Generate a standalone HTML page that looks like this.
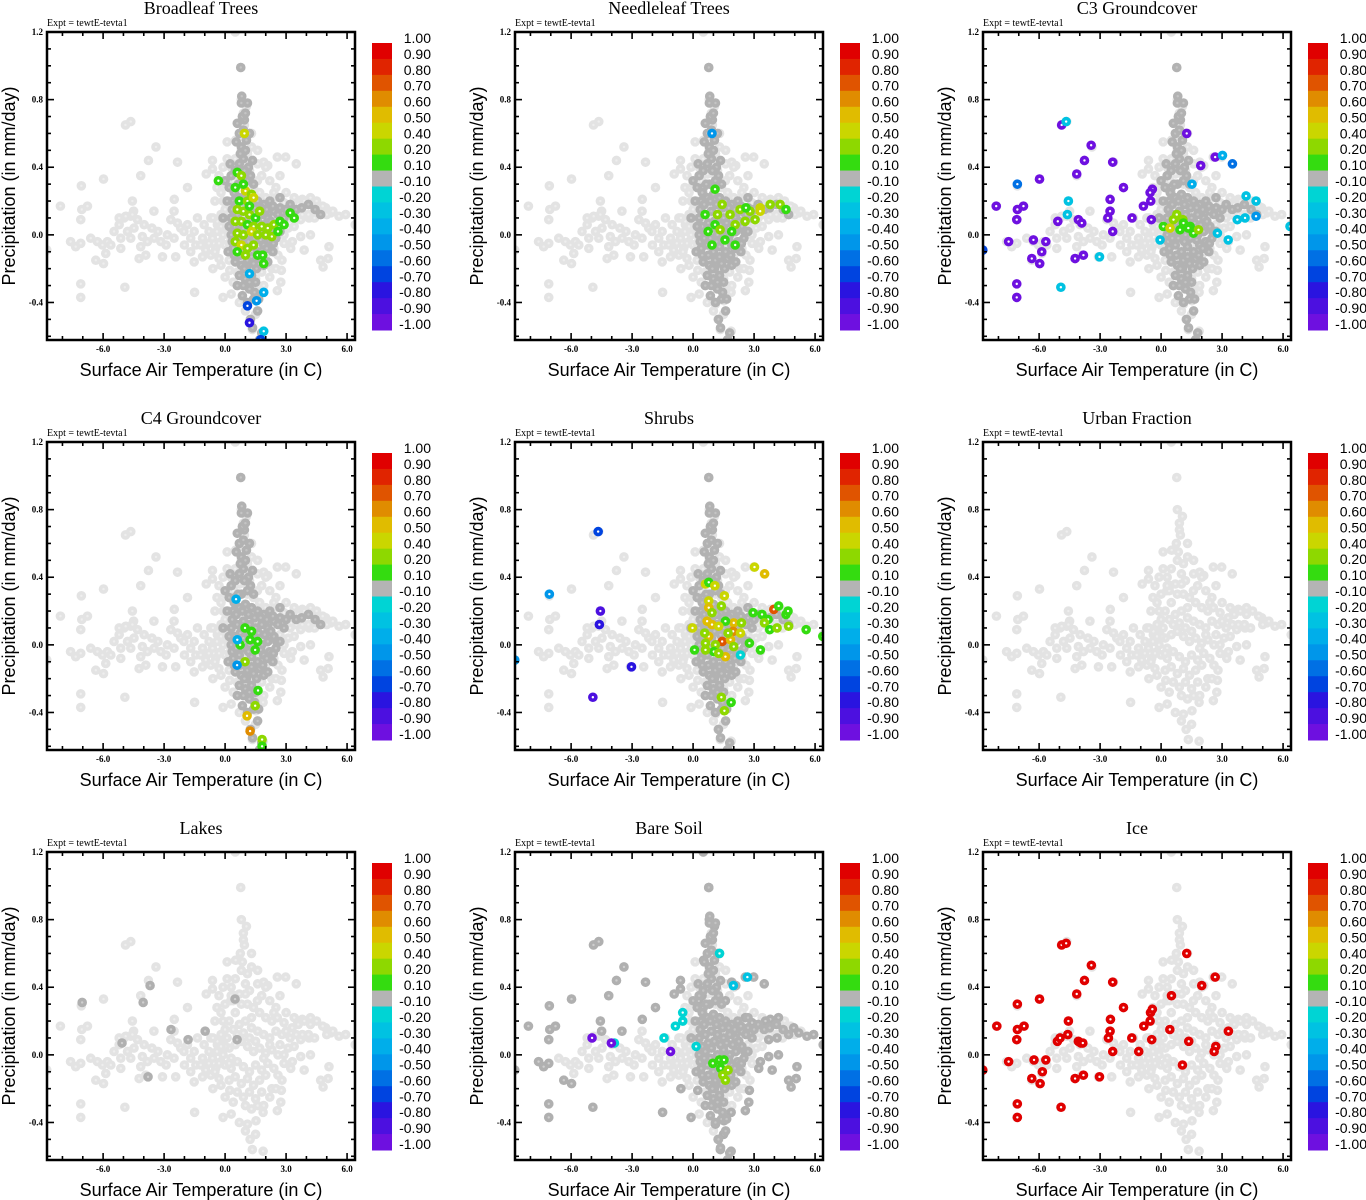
<!DOCTYPE html>
<html><head><meta charset="utf-8">
<style>
html,body{margin:0;padding:0;background:#fff;}
svg{display:block;}
.ttl{font-family:"Liberation Serif",serif;font-size:18px;}
.expt{font-family:"Liberation Serif",serif;font-size:10px;}
.tick{font-family:"Liberation Serif",serif;font-size:9px;font-weight:bold;}
.axt{font-family:"Liberation Sans",sans-serif;font-size:18px;}
.cbl{font-family:"Liberation Sans",sans-serif;font-size:14px;}
</style></head>
<body>
<svg id="chart" width="1366" height="1200" viewBox="0 0 1366 1200" xmlns="http://www.w3.org/2000/svg"></svg>
<script>
// ---------- data ----------
const panelTitles = ["Broadleaf Trees","Needleleaf Trees","C3 Groundcover","C4 Groundcover","Shrubs","Urban Fraction","Lakes","Bare Soil","Ice"];
const xTicks = [-6,-3,0,3,6];
const xTickLabels = ["-6.0","-3.0","0.0","3.0","6.0"];
const yTicks = [1.2,0.8,0.4,0.0,-0.4];
const yTickLabels = ["1.2","0.8","0.4","0.0","-0.4"];
const cbLabels = ["1.00","0.90","0.80","0.70","0.60","0.50","0.40","0.20","0.10","-0.10","-0.20","-0.30","-0.40","-0.50","-0.60","-0.70","-0.80","-0.90","-1.00"];
const cbLevels = [1.0,0.9,0.8,0.7,0.6,0.5,0.4,0.2,0.1,-0.1,-0.2,-0.3,-0.4,-0.5,-0.6,-0.7,-0.8,-0.9,-1.0];
const cbColors = ["#e00000","#e02400","#e05400","#e08c00","#e0bc00","#cad600","#8ed800","#34dc10","#b4b4b4","#00d4d4","#00c2e2","#00aeea","#0096ea","#0070e4","#0044e0","#2a14e0","#4c10e0","#6e10e0"];

// light-gray background cloud (temperature, precipitation)
const bgOutliers = [[0.77,0.99],[0.8,0.8],[1.05,0.76],[0.9,0.68],[1.3,0.6],[0.52,0.56],[-4.9,0.65],[-4.64,0.67],[-3.4,0.52],[-3.77,0.44],[-2.34,0.43],[-4.15,0.35],[-5.98,0.33],[-7.07,0.29],[-8.1,0.17],[-7.05,0.15],[-6.77,0.17],[-7.1,0.09],[-4.56,0.2],[-4.5,0.14],[-0.62,0.44],[-0.62,0.39],[-0.93,0.36],[-1.85,0.28],[-2.5,0.21],[-3.5,0.14],[2.57,0.46],[2.98,0.46],[3.5,0.42],[1.9,0.43],[2.1,0.41],[-7.6,-0.04],[-7.35,-0.07],[-7.1,-0.05],[-6.36,-0.15],[-5.98,-0.17],[-7.1,-0.29],[-7.1,-0.37],[-4.93,-0.31],[-1.5,-0.34],[-0.1,-0.37],[-0.6,-0.2],[0.23,-0.21],[1.1,-0.41],[1.52,-0.39],[1.23,-0.5],[1.5,-0.47],[1.34,-0.56],[1.87,-0.57],[1.87,-0.34],[2.57,-0.33],[2.74,-0.28],[2.77,-0.21],[5.11,-0.07],[4.7,-0.15],[5.07,-0.14],[4.82,-0.19],[4.2,0.0],[3.89,-0.09],[3.72,-0.01],[3.31,-0.04],[3.23,-0.08],[5.6,0.11],[5.93,0.12],[6.4,0.06],[4.95,0.16],[5.2,0.13],[4.2,0.22],[3.8,0.21],[3.56,0.2],[2.9,0.19],[2.57,0.22],[4.13,0.1],[3.72,0.09],[0.44,0.35],[0.28,0.32],[1.59,0.32],[-8.77,-0.09],[0.5,1.2]];
const bgBand = [[-6.61,-0.02],[-6.28,-0.04],[-6.03,-0.06],[-5.79,-0.04],[-5.46,0.02],[-5.21,0.06],[-4.97,0.1],[-4.64,0.11],[-4.31,0.09],[-3.98,0.06],[-4.07,-0.01],[-3.82,-0.04],[-3.49,-0.02],[-3.16,-0.04],[-2.84,0.0],[-2.51,-0.02],[-2.18,0.04],[-1.85,0.06],[-1.52,0.02],[-1.36,0.1],[-1.11,-0.02],[-0.79,0.02],[-0.38,0.06],[-0.21,-0.04],[-4.15,-0.07],[-3.9,-0.12],[-4.23,-0.14],[-3.08,-0.13],[-2.43,-0.13],[-1.69,-0.1],[-1.52,-0.16],[-1.11,-0.13],[-5.62,-0.06],[-5.13,-0.08],[-5.87,-0.11],[-5.21,0.1],[-4.89,0.11],[-4.56,0.12],[-5.13,-0.02],[-4.64,-0.02],[-4.8,0.02],[-4.48,0.04],[-2.67,0.09],[-2.34,0.07],[-2.51,0.14],[-2.02,0.02],[-1.69,-0.02],[-1.44,-0.06],[-1.2,-0.06],[-0.95,-0.09],[-0.7,-0.12],[-0.46,-0.08],[-0.3,-0.14],[-0.62,-0.02],[-1.03,0.06],[-0.7,0.1],[-0.38,0.08],[-0.05,0.1],[-3.3,0.02],[-2.9,-0.06],[-2.0,-0.06],[-3.6,0.04]];
const bgCore = [[0,0.3],[0.3,0.4],[0.5,0.45],[0.8,0.5],[1.0,0.42],[1.2,0.38],[0.2,0.2],[0.5,0.25],[0.8,0.3],[1.1,0.3],[1.4,0.28],[1.7,0.25],[2.0,0.22],[2.3,0.2],[-0.2,0.12],[0.1,0.1],[0.4,0.15],[0.7,0.18],[1.0,0.2],[1.3,0.16],[1.6,0.14],[1.9,0.12],[2.2,0.1],[2.5,0.14],[2.8,0.12],[-0.4,0.02],[-0.1,0.0],[0.2,0.04],[0.5,0.06],[0.8,0.08],[1.1,0.05],[1.4,0.02],[1.7,0.04],[2.0,0.01],[2.3,0.03],[2.6,0.0],[0.0,-0.06],[0.3,-0.08],[0.6,-0.04],[0.9,-0.07],[1.2,-0.1],[1.5,-0.06],[1.8,-0.09],[2.1,-0.05],[2.4,-0.08],[0.2,-0.15],[0.5,-0.13],[0.8,-0.17],[1.1,-0.14],[1.4,-0.18],[1.7,-0.15],[2.0,-0.12],[0.6,-0.22],[0.9,-0.25],[1.2,-0.22],[1.5,-0.26],[1.8,-0.22],[1.0,-0.3],[1.3,-0.32],[1.6,-0.3],[0.7,0.36],[1.0,0.36],[0.4,0.32],[1.3,0.22],[0.6,0.12],[0.9,0.13],[1.5,0.08],[1.2,0.1],[0.3,-0.02],[1.9,-0.02],[2.2,0.06],[2.7,0.06],[3.0,0.14],[3.3,0.16],[3.6,0.18],[3.9,0.2],[4.2,0.18],[4.5,0.2],[4.8,0.17],[3.2,0.1],[3.5,0.12],[0.75,0.6],[0.85,0.55],[0.95,0.65],[0.9,0.72],[1.1,0.48],[0.3,0.35],[-0.2,0.25],[2.2,0.32],[2.5,0.28],[1.8,0.35]];
const bgFill = [[-0.5,0.2],[-0.3,0.35],[-0.1,0.4],[0.1,0.45],[0.0,0.15],[-0.3,-0.05],[-0.2,-0.18],[0.0,-0.25],[0.4,-0.28],[2.3,-0.2],[2.6,-0.12],[2.9,-0.05],[3.0,0.25],[2.7,0.35],[2.0,0.4],[1.6,0.42],[3.4,0.22],[3.8,0.12],[4.1,0.12],[4.4,0.1],[5.0,0.12],[5.3,0.14],[2.9,0.0],[2.5,-0.2],[0.1,0.55],[-0.6,0.1],[-0.8,-0.05],[-0.5,-0.1],[0.0,0.05],[2.2,-0.25],[1.9,-0.3],[0.3,-0.35],[0.7,-0.4],[1.0,-0.45],[1.3,0.52],[1.6,0.5],[-0.4,0.28],[-0.1,0.2],[0.2,-0.05],[-0.2,0.05],[3.1,0.04],[3.4,0.05],[2.8,-0.15],[2.4,0.25]];
// darker gray (near-zero correlation) core
const darkCore = [[0.3,0.35],[0.5,0.38],[0.7,0.42],[0.9,0.45],[0.8,0.52],[1.0,0.5],[0.7,0.6],[0.9,0.62],[0.95,0.68],[0.85,0.7],[1.0,0.72],[0.5,0.28],[0.8,0.3],[1.1,0.32],[1.4,0.3],[0.4,0.2],[0.7,0.22],[1.0,0.24],[1.3,0.22],[1.6,0.2],[1.9,0.18],[2.2,0.2],[0.3,0.1],[0.6,0.12],[0.9,0.14],[1.2,0.12],[1.5,0.1],[1.8,0.12],[2.1,0.1],[2.4,0.14],[2.7,0.16],[3.0,0.15],[0.3,0.0],[0.6,0.02],[0.9,0.04],[1.2,0.0],[1.5,0.03],[1.8,0.0],[2.1,0.02],[2.4,0.05],[0.4,-0.08],[0.7,-0.06],[1.0,-0.1],[1.3,-0.07],[1.6,-0.1],[1.9,-0.06],[2.2,-0.04],[0.5,-0.16],[0.8,-0.18],[1.1,-0.15],[1.4,-0.17],[1.7,-0.14],[0.7,-0.24],[1.0,-0.26],[1.3,-0.24],[0.9,-0.3],[1.2,-0.32],[1.5,-0.28],[1.4,-0.38],[1.6,-0.45],[1.25,-0.5],[1.35,-0.55],[1.8,-0.58],[1.7,-0.62],[0.77,0.99],[0.82,0.82],[1.1,0.78],[3.5,0.15],[3.77,0.16],[4.1,0.18],[4.43,0.15],[4.7,0.12],[2.38,-0.05],[1.9,-0.18],[0.2,0.28],[0.55,0.55],[1.15,0.4],[1.2,0.6]];
const darkFill = [[0.45,0.25],[0.65,0.3],[0.95,0.38],[1.25,0.35],[0.35,0.15],[0.55,0.18],[0.85,0.2],[1.15,0.18],[1.45,0.16],[1.75,0.16],[2.05,0.15],[2.35,0.17],[2.6,0.12],[2.9,0.1],[3.2,0.18],[0.45,0.05],[0.75,0.07],[1.05,0.08],[1.35,0.06],[1.65,0.07],[1.95,0.06],[2.25,0.08],[2.55,0.02],[0.35,-0.04],[0.55,-0.02],[0.85,-0.02],[1.15,-0.04],[1.45,-0.02],[1.75,-0.03],[2.05,-0.08],[2.35,-0.1],[0.45,-0.12],[0.75,-0.12],[1.05,-0.2],[1.3,-0.13],[1.55,-0.2],[1.85,-0.12],[2.1,-0.16],[0.6,-0.3],[0.85,-0.36],[1.1,-0.4],[1.2,-0.28],[1.45,-0.34],[1.65,-0.38],[0.95,-0.2],[0.75,0.48],[1.05,0.56],[0.8,0.78],[0.6,0.66],[0.2,0.05],[0.15,-0.1],[2.7,0.22],[0.25,0.42],[1.35,0.44],[0.1,0.2],[0.0,0.32],[-0.1,0.1],[2.5,-0.02],[2.7,0.02]];
const lakesDark = [[-7.03,0.31],[-4.03,0.31],[-3.69,0.41],[-5.07,0.07],[-3.79,-0.13],[-2.66,0.15],[-1.82,0.09],[-0.98,0.14],[0.49,0.33],[0.59,0.09]];

// coloured points per panel: [temperature, precipitation, correlation]
const broadleafPts = [[-0.33,0.32,0.15],[0.95,0.6,0.45],[0.6,0.37,0.15],[0.8,0.35,0.3],[0.5,0.28,0.15],[1.0,0.26,0.45],[1.3,0.24,0.3],[0.7,0.2,0.15],[1.1,0.2,0.3],[1.4,0.22,0.45],[0.6,0.15,0.3],[0.9,0.14,0.3],[1.2,0.12,0.3],[1.5,0.1,0.15],[0.5,0.08,0.3],[0.8,0.08,0.3],[1.1,0.06,0.15],[1.4,0.05,0.3],[1.8,0.05,0.3],[2.1,0.04,0.3],[2.4,0.06,0.3],[2.7,0.08,0.15],[2.9,0.06,0.15],[3.2,0.13,0.15],[3.4,0.1,0.15],[0.6,0.01,0.3],[0.9,0.0,0.3],[1.3,0.02,0.45],[1.6,0.0,0.3],[2.0,0.0,0.3],[2.3,-0.01,0.3],[0.5,-0.04,0.3],[0.8,-0.06,0.45],[1.1,-0.08,0.3],[1.4,-0.06,0.3],[0.6,-0.1,0.15],[1.0,-0.12,0.3],[1.6,-0.12,0.15],[1.85,-0.12,0.15],[1.9,-0.17,0.15],[0.9,0.3,0.15],[1.2,0.17,0.15],[1.7,0.14,0.3],[2.6,0.02,0.15],[1.1,-0.42,-0.65],[1.55,-0.39,-0.45],[1.9,-0.34,-0.35],[1.2,-0.52,-0.75],[1.9,-0.57,-0.25],[1.75,-0.62,-0.65],[1.2,-0.23,-0.35]];
const needleleafPts = [[0.93,0.6,-0.45],[1.08,0.27,0.15],[0.59,0.12,0.15],[1.08,0.06,0.15],[0.74,0.02,0.15],[1.33,0.03,0.3],[1.82,0.12,0.3],[2.31,0.15,0.3],[2.8,0.14,0.3],[3.3,0.16,0.45],[3.79,0.18,0.3],[4.28,0.18,0.3],[4.57,0.15,0.15],[2.56,0.08,0.3],[1.57,-0.03,0.15],[2.07,-0.06,0.15],[0.93,-0.06,0.15],[1.43,0.18,0.3],[3.3,0.14,0.45],[3.05,0.09,0.3],[2.07,0.06,0.3],[1.2,0.12,0.3],[1.9,0.02,0.15],[2.6,0.16,0.15]];
const c3Pts = [[-4.89,0.65,-0.95],[-3.44,0.53,-0.95],[-3.77,0.44,-0.95],[-2.38,0.43,-0.95],[-4.15,0.36,-0.95],[-5.98,0.33,-0.95],[1.26,0.6,-0.95],[2.66,0.46,-0.95],[1.95,0.41,-0.95],[-1.85,0.28,-0.95],[-0.43,0.27,-0.95],[-0.54,0.25,-0.95],[-0.51,0.2,-0.95],[-0.87,0.17,-0.95],[-2.51,0.21,-0.95],[-2.51,0.14,-0.95],[-2.62,0.1,-0.95],[-1.43,0.1,-0.95],[-0.48,0.09,-0.95],[-2.38,0.02,-0.95],[-8.11,0.17,-0.95],[-7.07,0.15,-0.95],[-6.77,0.17,-0.95],[-7.1,0.09,-0.95],[-5.08,0.08,-0.95],[-4.07,0.09,-0.95],[-3.9,0.07,-0.95],[-7.5,-0.04,-0.95],[-6.28,-0.03,-0.95],[-5.67,-0.04,-0.95],[-5.87,-0.1,-0.95],[-6.36,-0.14,-0.95],[-5.97,-0.17,-0.95],[-4.23,-0.14,-0.95],[-3.82,-0.12,-0.95],[-7.1,-0.29,-0.95],[-7.1,-0.37,-0.95],[-4.67,0.67,-0.25],[-4.56,0.2,-0.25],[-4.61,0.12,-0.25],[-3.03,-0.13,-0.25],[-4.93,-0.31,-0.25],[-0.05,-0.03,-0.25],[3.02,0.47,-0.35],[4.18,0.23,-0.25],[4.67,0.2,-0.25],[3.75,0.09,-0.25],[4.13,0.1,-0.25],[3.3,-0.03,-0.25],[2.77,0.01,-0.25],[6.34,0.05,-0.25],[1.52,0.3,-0.35],[-7.07,0.3,-0.55],[3.51,0.42,-0.55],[4.67,0.11,-0.45],[-8.77,-0.09,-0.6],[0.77,0.12,0.3],[1.07,0.09,0.3],[1.43,0.05,0.15],[0.93,0.03,0.15],[1.59,0.01,0.15],[0.11,0.05,0.15],[0.44,0.04,0.45],[1.84,0.03,0.3],[0.61,0.09,0.3],[1.1,0.07,0.15],[1.34,0.04,0.15]];
const c4Pts = [[0.54,0.27,-0.3],[0.98,0.1,0.15],[1.23,0.03,0.15],[0.74,0.0,0.15],[1.48,-0.03,0.15],[0.98,-0.1,0.3],[1.62,-0.27,0.15],[1.48,-0.36,0.3],[1.08,-0.42,0.55],[1.23,-0.51,0.65],[1.82,-0.56,0.3],[1.82,-0.6,0.15],[0.59,-0.12,-0.45],[0.6,0.03,-0.35],[1.3,0.08,0.15],[1.6,0.02,0.15]];
const shrubPts = [[-4.67,0.67,-0.65],[-7.07,0.3,-0.45],[-4.56,0.2,-0.85],[-4.61,0.12,-0.75],[-3.03,-0.13,-0.75],[-4.93,-0.31,-0.85],[-8.77,-0.09,-0.45],[2.33,-0.06,-0.15],[3.02,0.46,0.45],[3.52,0.42,0.55],[3.97,0.21,0.75],[4.21,0.23,0.15],[4.57,0.18,0.15],[4.67,0.2,0.15],[3.39,0.18,0.15],[3.69,0.15,0.15],[3.51,0.13,0.3],[3.77,0.09,0.15],[4.13,0.1,0.3],[4.7,0.11,0.3],[5.56,0.09,0.15],[6.38,0.05,0.15],[2.95,0.19,0.15],[2.77,0.01,0.15],[3.31,-0.03,0.15],[0.07,-0.03,0.15],[-0.03,0.1,0.45],[0.61,0.36,0.45],[0.77,0.37,0.15],[1.07,0.35,0.45],[1.54,0.29,0.45],[0.77,0.26,0.45],[1.39,0.23,0.3],[0.77,0.22,0.55],[0.93,0.19,0.3],[0.69,0.14,0.55],[0.93,0.12,0.55],[2.0,0.13,0.55],[2.38,0.13,0.3],[1.59,0.14,0.15],[1.26,0.11,0.45],[1.97,0.08,0.65],[2.33,0.07,0.45],[0.77,0.05,0.55],[1.43,0.02,0.75],[1.84,0.03,0.55],[1.1,0.0,0.3],[0.61,0.01,0.3],[1.02,-0.04,0.15],[1.59,-0.07,0.55],[1.26,-0.05,0.3],[2.0,-0.01,0.3],[0.61,-0.03,0.3],[0.57,0.07,0.3],[1.72,0.07,0.3],[1.39,-0.31,0.3],[1.87,-0.34,0.15],[1.54,-0.39,0.3]];
const urbanPts = [];
const lakePts = [];
const bareSoilPts = [[1.3,0.6,-0.15],[1.98,0.41,-0.25],[2.67,0.46,-0.25],[-0.51,0.25,-0.15],[-0.51,0.2,-0.15],[-0.87,0.17,-0.15],[-1.43,0.1,-0.15],[-3.87,0.07,-0.15],[0.15,0.05,-0.15],[-4.97,0.1,-0.95],[-4.02,0.07,-0.95],[-1.11,0.02,-0.95],[0.97,-0.05,0.15],[1.3,-0.03,0.15],[1.52,-0.03,0.15],[1.36,-0.08,0.15],[1.72,-0.09,0.3],[1.46,-0.12,0.3],[1.59,-0.15,0.3]];
const icePts = [[-8.77,-0.09,0.95],[-8.08,0.17,0.95],[-7.5,-0.04,0.95],[-7.07,0.3,0.95],[-7.07,0.15,0.95],[-6.74,0.17,0.95],[-7.1,0.09,0.95],[-7.07,-0.29,0.95],[-7.07,-0.37,0.95],[-6.36,-0.14,0.95],[-6.25,-0.03,0.95],[-5.98,0.33,0.95],[-5.84,-0.1,0.95],[-5.95,-0.17,0.95],[-5.67,-0.03,0.95],[-5.1,0.08,0.95],[-4.97,0.1,0.95],[-4.89,0.65,0.95],[-4.67,0.66,0.95],[-4.92,-0.31,0.95],[-4.56,0.2,0.95],[-4.59,0.12,0.95],[-4.15,0.36,0.95],[-4.23,-0.14,0.95],[-4.07,0.08,0.95],[-3.95,0.07,0.95],[-3.85,0.07,0.95],[-3.77,0.44,0.95],[-3.82,-0.12,0.95],[-3.43,0.53,0.95],[-3.03,-0.13,0.95],[-2.59,0.1,0.95],[-2.51,0.14,0.95],[-2.49,0.21,0.95],[-2.38,0.43,0.95],[-2.38,0.02,0.95],[-1.85,0.28,0.95],[-1.44,0.1,0.95],[-1.1,0.02,0.95],[-0.85,0.17,0.95],[-0.54,0.2,0.95],[-0.52,0.25,0.95],[-0.43,0.27,0.95],[-0.46,0.09,0.95],[0.43,0.15,0.95],[0.51,0.35,0.95],[1.05,-0.06,0.95],[1.26,0.6,0.95],[1.36,0.08,0.95],[2.0,0.41,0.95],[2.66,0.46,0.95],[2.69,0.05,0.95],[2.61,0.02,0.95],[3.31,0.14,0.95]];
const panelPoints = [broadleafPts,needleleafPts,c3Pts,c4Pts,shrubPts,urbanPts,lakePts,bareSoilPts,icePts];
const panelSlugs = ["broadleaf","needleleaf","c3-groundcover","c4-groundcover","shrubs","urban","lakes","bare-soil","ice"];

// ---------- drawing ----------
const NS = "http://www.w3.org/2000/svg";
const svg = document.getElementById("chart");
const X_MIN = -8.76, X_MAX = 6.39, Y_MIN = -0.622, Y_MAX = 1.2;
const PW = 308, PH = 308;
function mk(tag, attrs, parent){
  const e = document.createElementNS(NS, tag);
  for (const k in attrs) e.setAttribute(k, attrs[k]);
  parent.appendChild(e);
  return e;
}
function colorFor(v){
  for (let i = 0; i < cbColors.length; i++){
    if (v <= cbLevels[i] && v > cbLevels[i+1]) return cbColors[i];
  }
  return v > 0 ? cbColors[0] : cbColors[cbColors.length-1];
}

panelTitles.forEach((title, idx) => {
  const col = idx % 3, row = Math.floor(idx / 3);
  const ox = 47 + col * 468, oy = 32 + row * 410;
  const xs = t => ox + (t - X_MIN) / (X_MAX - X_MIN) * PW;
  const ys = p => oy + (Y_MAX - p) / (Y_MAX - Y_MIN) * PH;
  const slug = panelSlugs[idx];

  const g = mk("g", {}, svg);
  
  

  const t = mk("text", {x: ox + 154, y: oy - 18, "text-anchor": "middle", class: "ttl"}, g);
  t.textContent = title;
  
  

  const ex = mk("text", {x: ox, y: oy - 6, class: "expt"}, g);
  ex.textContent = "Expt = tewtE-tevta1";
  
  

  const cid = "clip" + idx;
  const cp = mk("clipPath", {id: cid}, g);
  mk("rect", {x: ox, y: oy, width: PW, height: PH}, cp);

  const pts = mk("g", {"clip-path": "url(#" + cid + ")"}, g);
  
  

  function dot(T, P, fill, inner, name){
    const c = mk("circle", {cx: xs(T), cy: ys(P), r: 4.8, fill: fill}, pts);
    
    
    mk("circle", {cx: xs(T), cy: ys(P), r: 1.2, fill: inner}, pts);
  }
  const lightSets = [bgOutliers, bgBand, bgCore, bgFill];
  lightSets.forEach(s => s.forEach(p => dot(p[0], p[1], "#e3e3e3", "#eeeeee", "background-point")));
  if (idx === 7) bgOutliers.forEach(p => dot(p[0], p[1], "#b0b0b0", "#cfcfcf", "neutral-point"));
  if (idx <= 4 || idx === 7) {
    darkCore.forEach(p => dot(p[0], p[1], "#b2b2b2", "#c4c4c4", "neutral-point"));
    darkFill.forEach(p => dot(p[0], p[1], "#b2b2b2", "#c4c4c4", "neutral-point"));
  }
  if (idx === 6) lakesDark.forEach(p => dot(p[0], p[1], "#b0b0b0", "#cfcfcf", "neutral-point"));
  panelPoints[idx].forEach(p => dot(p[0], p[1], colorFor(p[2]), "#ffffff", "correlation-point"));

  // frame
  const fr = mk("rect", {x: ox, y: oy, width: PW, height: PH, fill: "none", stroke: "#000", "stroke-width": 2.5}, g);
  
  

  for (let v = -8; v <= 6; v++){
    const x = xs(v), len = (v % 3 === 0) ? 7 : 4;
    mk("line", {x1: x, y1: oy + PH, x2: x, y2: oy + PH - len, stroke: "#000", "stroke-width": 1.6}, g);
    mk("line", {x1: x, y1: oy, x2: x, y2: oy + len, stroke: "#000", "stroke-width": 1.6}, g);
  }
  for (let k = -6; k <= 12; k++){
    const v = k / 10, y = ys(v), len = (k % 4 === 0) ? 7 : 4;
    mk("line", {x1: ox, y1: y, x2: ox + len, y2: y, stroke: "#000", "stroke-width": 1.6}, g);
    mk("line", {x1: ox + PW, y1: y, x2: ox + PW - len, y2: y, stroke: "#000", "stroke-width": 1.6}, g);
  }
  xTicks.forEach((v, i) => {
    const l = mk("text", {x: xs(v), y: oy + PH + 12, "text-anchor": "middle", class: "tick"}, g);
    l.textContent = xTickLabels[i];
    
    
  });
  yTicks.forEach((v, i) => {
    const l = mk("text", {x: ox - 4, y: ys(v) + 3, "text-anchor": "end", class: "tick"}, g);
    l.textContent = yTickLabels[i];
    
    
  });

  const xt = mk("text", {x: ox + 154, y: oy + PH + 36, "text-anchor": "middle", class: "axt"}, g);
  xt.textContent = "Surface Air Temperature (in C)";
  
  
  const yt = mk("text", {x: 0, y: 0, "text-anchor": "middle", class: "axt", transform: "translate(" + (ox - 32) + "," + (oy + 154) + ") rotate(-90)"}, g);
  yt.textContent = "Precipitation (in mm/day)";
  
  

  // colour bar
  const cb = mk("g", {}, g);
  
  
  const cbx = ox + 325, cby = oy + 11, bh = 287 / cbColors.length;
  cbColors.forEach((c, i) => {
    const r = mk("rect", {x: cbx, y: cby + i * bh, width: 20, height: bh + 0.5, fill: c}, cb);
    
    
  });
  const step = 286 / 18;
  cbLabels.forEach((s, i) => {
    const l = mk("text", {x: cbx + 59, y: oy + 6 + i * step + 5, "text-anchor": "end", class: "cbl"}, cb);
    l.textContent = s;
    
    
  });
});
</script>
</body></html>
